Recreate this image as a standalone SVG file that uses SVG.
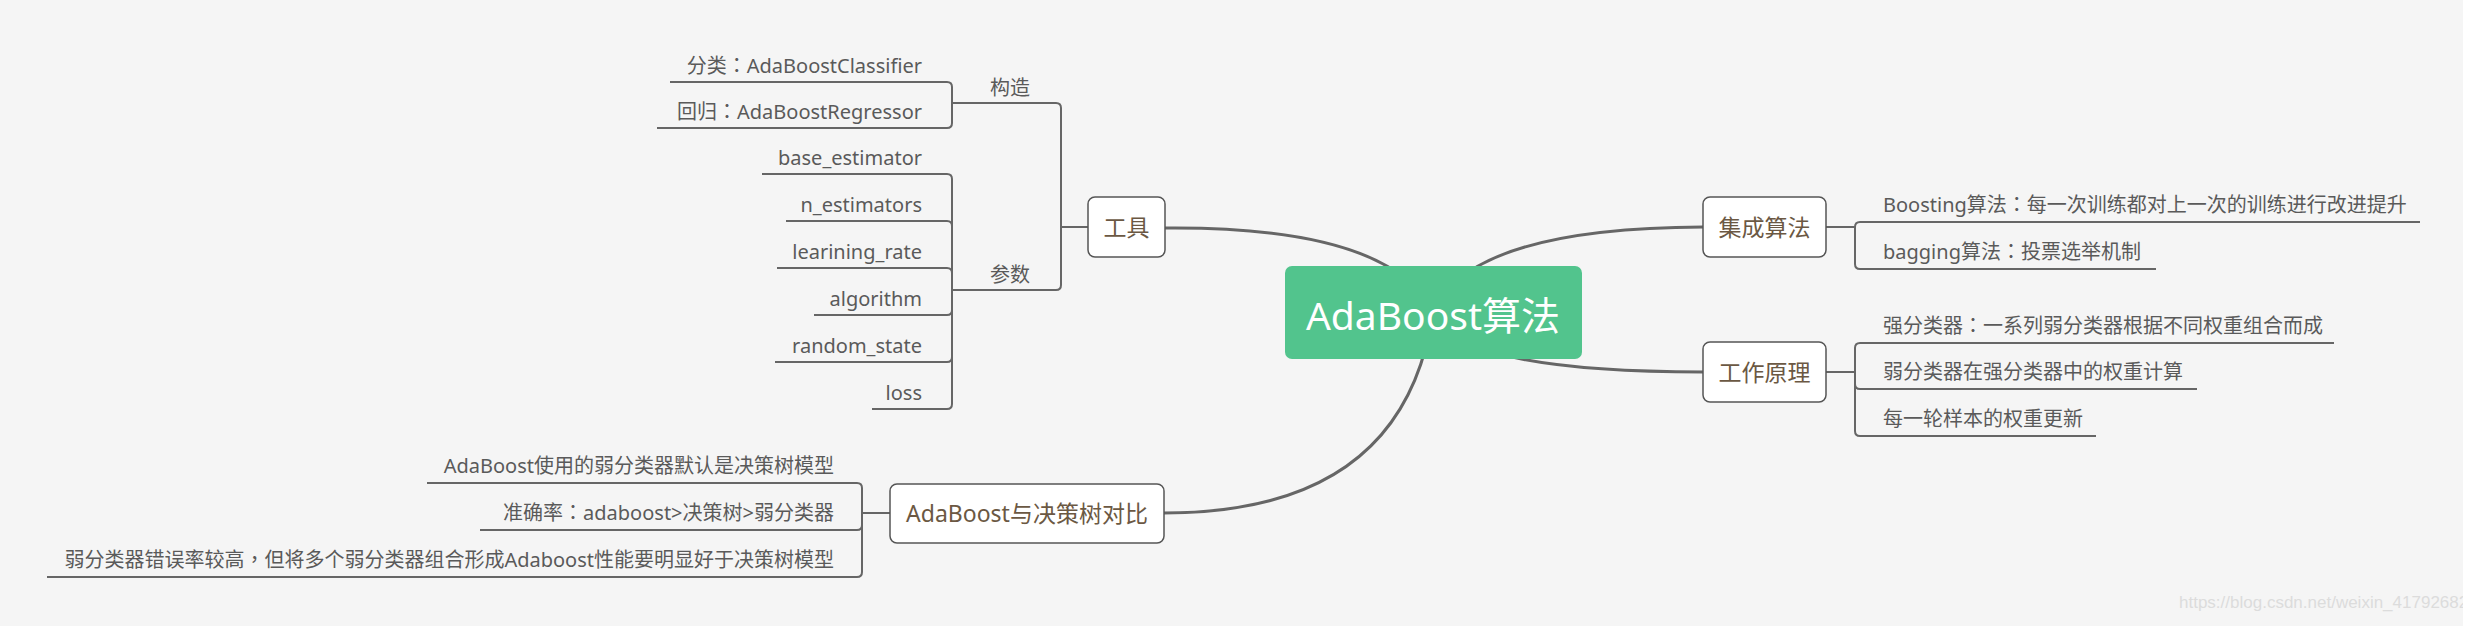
<svg xmlns="http://www.w3.org/2000/svg" width="2479" height="626" viewBox="0 0 2479 626">
<style>
.main{fill:none;stroke:#666;stroke-width:3;stroke-linecap:round}
.sub{fill:none;stroke:#666;stroke-width:2}
.box{fill:#fff;stroke:#555;stroke-width:1.5}
.t{font-family:"Noto Sans","Noto Sans CJK SC",sans-serif}
.p{font-family:"Noto Sans CJK TC","Noto Sans CJK SC",sans-serif}
.n1{font-size:23px;fill:#6b5843;text-anchor:middle}
.lf{font-size:20px;fill:#5a5a5a}
.e{text-anchor:end}
</style>
<rect x="0" y="0" width="2479" height="626" fill="#f5f5f5"/>
<g id="connectors">
<path class="main" d="M1165 228 Q1390 226 1433 312"/>
<path class="main" d="M1433 312 Q1470 228 1703 227"/>
<path class="main" d="M1433 312 Q1455 372 1703 372"/>
<path class="main" d="M1433 312 Q1404 513 1164 513"/>
<path class="sub" d="M1088 227 H1061 M1061 227 V108 Q1061 103 1056 103 H952 M1061 227 V285 Q1061 290 1056 290 H952"/>
<path class="sub" d="M952 103 V87 Q952 82 947 82 H670 M952 103 V123 Q952 128 947 128 H657"/>
<path class="sub" d="M952 290 V179 Q952 174 947 174 H762 M952 290 V226 Q952 221 947 221 H786 M952 290 V273 Q952 268 947 268 H777 M952 290 V310 Q952 315 947 315 H814 M952 290 V357 Q952 362 947 362 H775 M952 290 V404 Q952 409 947 409 H872"/>
<path class="sub" d="M1826 227 H1855 M1855 227 Q1855 222 1860 222 H2420 M1855 227 V264 Q1855 269 1860 269 H2156"/>
<path class="sub" d="M1826 372 H1855 M1855 372 V348 Q1855 343 1860 343 H2334 M1855 372 V384 Q1855 389 1860 389 H2197 M1855 372 V431 Q1855 436 1860 436 H2096"/>
<path class="sub" d="M890 513 H862 M862 513 V488 Q862 483 857 483 H427 M862 513 V525 Q862 530 857 530 H480 M862 513 V572 Q862 577 857 577 H47"/>
</g>
<g id="root">
<rect x="1285" y="266" width="297" height="93" rx="7" fill="#52c48d"/>
<text class="t" x="1433" y="330" font-size="39" fill="#fff" text-anchor="middle">AdaBoost算法</text>
</g>
<g id="tools">
<rect class="box" x="1088" y="197" width="77" height="60" rx="7"/>
<text class="t n1" x="1126.5" y="236">工具</text>
</g>
<g id="construct"><text class="t lf" x="990" y="95">构造</text></g>
<g id="params"><text class="t lf" x="990" y="282">参数</text></g>
<g id="clf"><text class="t lf e" x="922" y="73">分类<tspan class="p">：</tspan>AdaBoostClassifier</text></g>
<g id="reg"><text class="t lf e" x="922" y="119">回归<tspan class="p">：</tspan>AdaBoostRegressor</text></g>
<g id="p1"><text class="t lf e" x="922" y="165">base_estimator</text></g>
<g id="p2"><text class="t lf e" x="922" y="212">n_estimators</text></g>
<g id="p3"><text class="t lf e" x="922" y="259">learining_rate</text></g>
<g id="p4"><text class="t lf e" x="922" y="306">algorithm</text></g>
<g id="p5"><text class="t lf e" x="922" y="353">random_state</text></g>
<g id="p6"><text class="t lf e" x="922" y="400">loss</text></g>
<g id="ensemble">
<rect class="box" x="1703" y="197" width="123" height="60" rx="7"/>
<text class="t n1" x="1764.5" y="236">集成算法</text>
</g>
<g id="boosting"><text class="t lf" x="1883" y="212">Boosting算法<tspan class="p">：</tspan>每一次训练都对上一次的训练进行改进提升</text></g>
<g id="bagging"><text class="t lf" x="1883" y="259">bagging算法<tspan class="p">：</tspan>投票选举机制</text></g>
<g id="principle">
<rect class="box" x="1703" y="342" width="123" height="60" rx="7"/>
<text class="t n1" x="1764.5" y="381">工作原理</text>
</g>
<g id="w1"><text class="t lf" x="1883" y="333">强分类器<tspan class="p">：</tspan>一系列弱分类器根据不同权重组合而成</text></g>
<g id="w2"><text class="t lf" x="1883" y="379">弱分类器在强分类器中的权重计算</text></g>
<g id="w3"><text class="t lf" x="1883" y="426">每一轮样本的权重更新</text></g>
<g id="compare">
<rect class="box" x="890" y="484" width="274" height="59" rx="7"/>
<text class="t n1" x="1027" y="522">AdaBoost与决策树对比</text>
</g>
<g id="c1"><text class="t lf e" x="834" y="473">AdaBoost使用的弱分类器默认是决策树模型</text></g>
<g id="c2"><text class="t lf e" x="834" y="520">准确率<tspan class="p">：</tspan>adaboost&gt;决策树&gt;弱分类器</text></g>
<g id="c3"><text class="t lf e" x="834" y="567">弱分类器错误率较高<tspan class="p">，</tspan>但将多个弱分类器组合形成Adaboost性能要明显好于决策树模型</text></g>
<text x="2179" y="608" font-family="Liberation Sans, Arial, sans-serif" font-size="17" fill="#dcdcdc">https://blog.csdn.net/weixin_41792682</text>
<rect x="2463" y="0" width="16" height="626" fill="#fff"/>
</svg>
